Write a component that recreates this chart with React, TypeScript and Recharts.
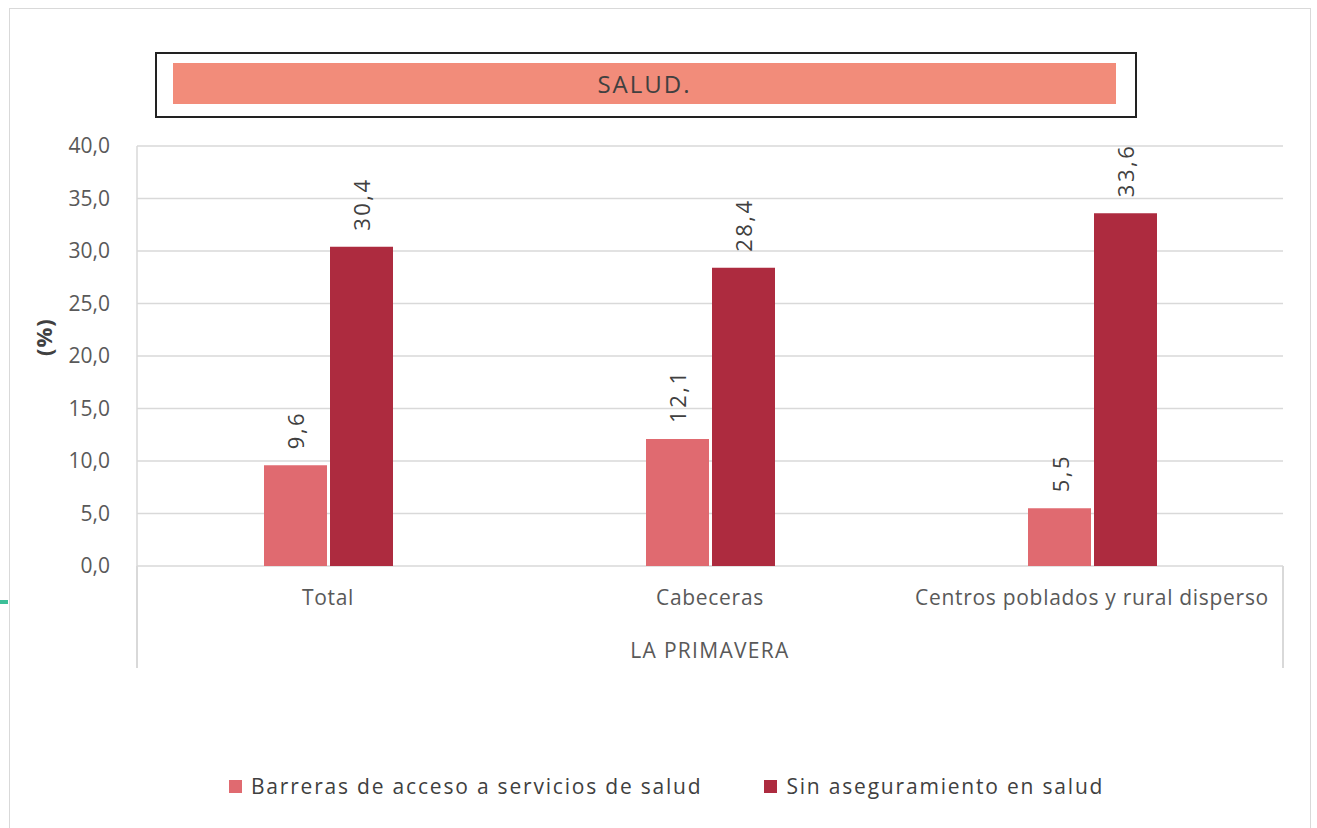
import React from 'react';
import { BarChart, Bar, XAxis, YAxis, CartesianGrid, LabelList } from 'recharts';

const categories = ['Total', 'Cabeceras', 'Centros poblados y rural disperso'];
const barreras = [9.6, 12.1, 5.5];
const sinAseguramiento = [30.4, 28.4, 33.6];
const yTicks = [0, 5, 10, 15, 20, 25, 30, 35, 40];

const seriesNames = ['Barreras de acceso a servicios de salud', 'Sin aseguramiento en salud'];
const colors = ['#E06A70', '#AD2B3F'];

const data = categories.map((cat, i) => ({
  cat,
  barreras: barreras[i],
  sin: sinAseguramiento[i],
}));

const FONT = '"Open Sans", "Noto Sans", sans-serif';
const fmt = (v: number) => v.toFixed(1).replace('.', ',');

const RotatedLabel = (props: any) => {
  const { x, y, width, value } = props;
  const cx = Number(x) + Number(width) / 2;
  const cy = Number(y) - 16;
  return (
    <text
      x={cx}
      y={cy}
      transform={`rotate(-90, ${cx}, ${cy})`}
      textAnchor="start"
      dominantBaseline="central"
      fontSize={22}
      letterSpacing={2.5}
      fill="#404040"
    >
      {fmt(Number(value))}
    </text>
  );
};

const App = () => {
  return (
    <div
      style={{
        position: 'absolute',
        left: 0,
        top: 0,
        width: 1317,
        height: 828,
        overflow: 'hidden',
        background: '#fff',
        fontFamily: FONT,
      }}
    >
      {/* chart area border */}
      <div style={{ position: 'absolute', left: 9, top: 8, width: 1300, height: 840, border: '1.5px solid #d9d9d9' }} />
      <div style={{ position: 'absolute', left: 0, top: 600, width: 8, height: 4, background: '#3cbf98' }} />

      {/* title box */}
      <div
        style={{
          position: 'absolute',
          left: 155,
          top: 52,
          width: 978,
          height: 62,
          border: '2.5px solid #222',
        }}
      />
      <div
        style={{
          position: 'absolute',
          left: 173,
          top: 63,
          width: 943,
          height: 41,
          background: '#F28C7A',
          color: '#404040',
          fontSize: 24,
          letterSpacing: 2,
          display: 'flex',
          alignItems: 'center',
          justifyContent: 'center',
        }}
      >
        SALUD.
      </div>

      <div style={{ position: 'absolute', left: 0, top: 0 }}>
        <BarChart
          width={1317}
          height={828}
          data={data}
          margin={{ top: 146, right: 34, bottom: 162, left: 0 }}
          barGap={3}
          barSize={63}
        >
          <CartesianGrid vertical={false} stroke="#d9d9d9" strokeWidth={1.5} />
          <XAxis
            dataKey="cat"
            height={100}
            axisLine={false}
            tickLine={false}
            tickSize={0}
            tickMargin={24}
            tick={{ fontSize: 21, fill: '#595959', letterSpacing: 0.7 }}
            label={{ value: 'LA PRIMAVERA', position: 'insideBottom', offset: 8, fontSize: 21, fill: '#595959', letterSpacing: 1.3 }}
          />
          <YAxis
            width={137}
            domain={[0, 40]}
            ticks={yTicks}
            tickFormatter={fmt}
            axisLine={{ stroke: '#d9d9d9', strokeWidth: 1.5 }}
            tickLine={false}
            tickSize={0}
            tickMargin={27}
            tick={{ fontSize: 21, fill: '#595959' }}
            label={{ value: '(%)', angle: -90, position: 'insideLeft', offset: 44, fontSize: 22, fontWeight: 'bold', fill: '#404040', letterSpacing: 1 }}
          />
          <Bar dataKey="barreras" name={seriesNames[0]} fill={colors[0]} isAnimationActive={false}>
            <LabelList dataKey="barreras" content={RotatedLabel} />
          </Bar>
          <Bar dataKey="sin" name={seriesNames[1]} fill={colors[1]} isAnimationActive={false}>
            <LabelList dataKey="sin" content={RotatedLabel} />
          </Bar>
        </BarChart>
      </div>

      {/* x axis separator lines below the plot */}
      <div style={{ position: 'absolute', left: 136, top: 566, width: 1.5, height: 102, background: '#d9d9d9' }} />
      <div style={{ position: 'absolute', left: 1282, top: 566, width: 1.5, height: 102, background: '#d9d9d9' }} />

      {/* legend */}
      <div
        style={{
          position: 'absolute',
          left: 229,
          top: 772,
          display: 'flex',
          alignItems: 'center',
          fontSize: 21,
          letterSpacing: 1.8,
          color: '#404040',
        }}
      >
        {seriesNames.map((name, i) => (
          <div key={name} style={{ display: 'flex', alignItems: 'center', marginRight: i === 0 ? 62 : 0 }}>
            <span style={{ display: 'inline-block', width: 13, height: 13, background: colors[i], marginRight: 9 }} />
            <span>{name}</span>
          </div>
        ))}
      </div>
    </div>
  );
};

export default App;
